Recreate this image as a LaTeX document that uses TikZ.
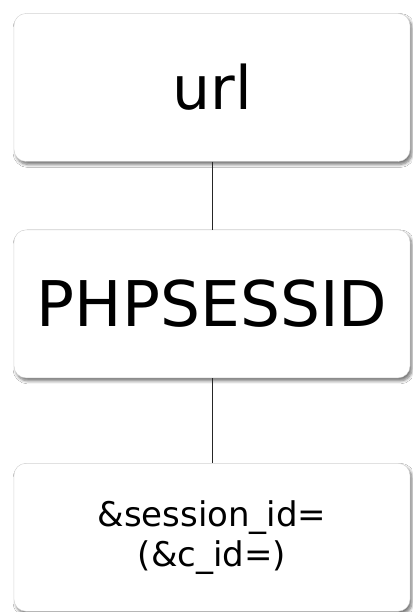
\documentclass[tikz,border=0pt]{standalone}
\usepackage{fontspec}
\setmainfont{DejaVu Sans}
\usetikzlibrary{positioning,shadows.blur}
\tikzset{
    keybox/.style={
        draw=black!18,
        fill=white,
        rounded corners=12pt,
        minimum width=396pt,
        minimum height=148pt,
        align=center,
        blur shadow={shadow xshift=2pt, shadow yshift=-3pt,
            shadow blur steps=6, shadow blur radius=3pt, shadow opacity=55}
    },
    link/.style={
        draw=black!85,
        line width=0.9pt
    }
}

\begin{document}
\begin{tikzpicture}
\useasboundingbox[fill=white] (0,0) rectangle (412pt,612pt);
\node[keybox, font=\fontsize{60}{62}\selectfont] (url) at (212pt,524.5pt) {url};
\node[keybox, below=68pt of url, font=\fontsize{63}{66}\selectfont] (sid) {PHPSESSID};
\node[keybox, below=85pt of sid, font=\fontsize{34}{40}\selectfont] (param) {\&session\_id=\\(\&c\_id=)};
\draw[link] (url) -- (sid);
\draw[link] (sid) -- (param);
\end{tikzpicture}
\end{document}
